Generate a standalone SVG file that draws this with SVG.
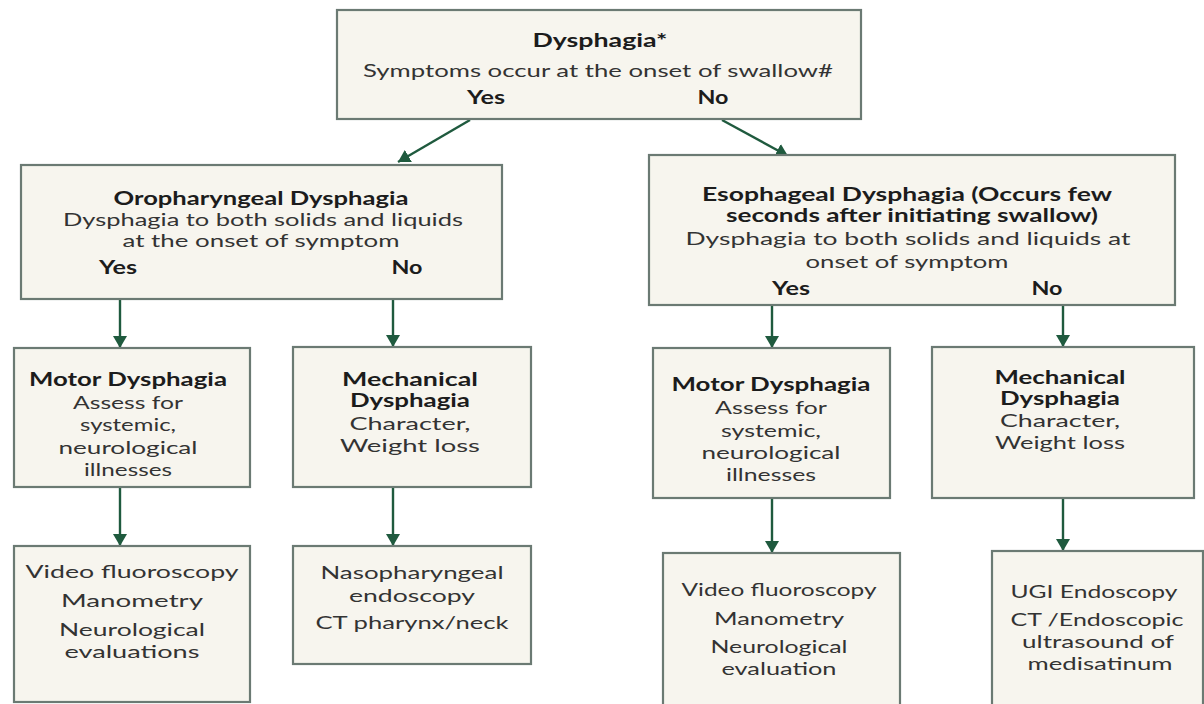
<svg xmlns="http://www.w3.org/2000/svg" width="1204" height="704" viewBox="0 0 1204 704">
<style>
.box{fill:#f7f5ee;stroke:#6b7a73;stroke-width:2.2}
.t{font-family:Lato,"Open Sans","Liberation Sans",sans-serif;font-size:18px;fill:#333333;text-anchor:middle}
.b{font-weight:bold;fill:#1c1c1c}
.c{stroke:#1f5a3e;stroke-width:2.4;fill:none;marker-end:url(#ah)}
</style>
<defs>
<marker id="ah" markerUnits="userSpaceOnUse" markerWidth="14" markerHeight="14" refX="12" refY="7" orient="auto">
<path d="M0,0 L12,7 L0,14 z" fill="#1f5a3e"/>
</marker>
</defs>
<rect width="1204" height="704" fill="#ffffff"/>
<g id="connectors">
<line class="c" x1="470" y1="120" x2="398" y2="162"/>
<line class="c" x1="722" y1="120" x2="788" y2="156"/>
<line class="c" x1="120" y1="300" x2="120" y2="348"/>
<line class="c" x1="393" y1="300" x2="393" y2="347"/>
<line class="c" x1="120" y1="488" x2="120" y2="546"/>
<line class="c" x1="393" y1="488" x2="393" y2="546"/>
<line class="c" x1="772" y1="306" x2="772" y2="348"/>
<line class="c" x1="1063" y1="306" x2="1063" y2="347"/>
<line class="c" x1="772" y1="499" x2="772" y2="553"/>
<line class="c" x1="1063" y1="499" x2="1063" y2="551"/>
</g>
<g id="n-dysphagia">
<rect class="box" x="337" y="10" width="524" height="109"/>
<text class="t b" x="600" y="47" textLength="135" lengthAdjust="spacingAndGlyphs">Dysphagia*</text>
<text class="t" x="598" y="77" textLength="470" lengthAdjust="spacingAndGlyphs">Symptoms occur at the onset of swallow#</text>
<text class="t b" x="486" y="104" textLength="38" lengthAdjust="spacingAndGlyphs">Yes</text>
<text class="t b" x="713" y="104" textLength="31" lengthAdjust="spacingAndGlyphs">No</text>
</g>
<g id="n-oropharyngeal">
<rect class="box" x="21" y="165" width="481" height="134"/>
<text class="t b" x="261" y="205" textLength="295" lengthAdjust="spacingAndGlyphs">Oropharyngeal Dysphagia</text>
<text class="t" x="263" y="226" textLength="400" lengthAdjust="spacingAndGlyphs">Dysphagia to both solids and liquids</text>
<text class="t" x="261" y="247" textLength="277" lengthAdjust="spacingAndGlyphs">at the onset of symptom</text>
<text class="t b" x="118" y="274" textLength="38" lengthAdjust="spacingAndGlyphs">Yes</text>
<text class="t b" x="407" y="274" textLength="31" lengthAdjust="spacingAndGlyphs">No</text>
</g>
<g id="n-esophageal">
<rect class="box" x="649" y="155" width="526" height="150"/>
<text class="t b" x="907" y="201" textLength="410" lengthAdjust="spacingAndGlyphs">Esophageal Dysphagia (Occurs few</text>
<text class="t b" x="912" y="222" textLength="372" lengthAdjust="spacingAndGlyphs">seconds after initiating swallow)</text>
<text class="t" x="908" y="245" textLength="445" lengthAdjust="spacingAndGlyphs">Dysphagia to both solids and liquids at</text>
<text class="t" x="907" y="268" textLength="203" lengthAdjust="spacingAndGlyphs">onset of symptom</text>
<text class="t b" x="791" y="295" textLength="38" lengthAdjust="spacingAndGlyphs">Yes</text>
<text class="t b" x="1047" y="295" textLength="31" lengthAdjust="spacingAndGlyphs">No</text>
</g>
<g id="n-motor-left">
<rect class="box" x="14" y="348" width="236" height="139"/>
<text class="t b" x="128" y="386" textLength="198" lengthAdjust="spacingAndGlyphs">Motor Dysphagia</text>
<text class="t" x="128" y="409" textLength="110" lengthAdjust="spacingAndGlyphs">Assess for</text>
<text class="t" x="128" y="431" textLength="96" lengthAdjust="spacingAndGlyphs">systemic,</text>
<text class="t" x="128" y="454" textLength="139" lengthAdjust="spacingAndGlyphs">neurological</text>
<text class="t" x="128" y="476" textLength="88" lengthAdjust="spacingAndGlyphs">illnesses</text>
</g>
<g id="n-mechanical-left">
<rect class="box" x="293" y="347" width="238" height="140"/>
<text class="t b" x="410" y="386" textLength="136" lengthAdjust="spacingAndGlyphs">Mechanical</text>
<text class="t b" x="410" y="407" textLength="120" lengthAdjust="spacingAndGlyphs">Dysphagia</text>
<text class="t" x="410" y="430" textLength="121" lengthAdjust="spacingAndGlyphs">Character,</text>
<text class="t" x="410" y="452" textLength="140" lengthAdjust="spacingAndGlyphs">Weight loss</text>
</g>
<g id="n-tests-motor-left">
<rect class="box" x="14" y="546" width="236" height="156"/>
<text class="t" x="132" y="578" textLength="213" lengthAdjust="spacingAndGlyphs">Video fluoroscopy</text>
<text class="t" x="132" y="607" textLength="142" lengthAdjust="spacingAndGlyphs">Manometry</text>
<text class="t" x="132" y="636" textLength="146" lengthAdjust="spacingAndGlyphs">Neurological</text>
<text class="t" x="132" y="658" textLength="135" lengthAdjust="spacingAndGlyphs">evaluations</text>
</g>
<g id="n-tests-mechanical-left">
<rect class="box" x="293" y="546" width="238" height="118"/>
<text class="t" x="412" y="579" textLength="183" lengthAdjust="spacingAndGlyphs">Nasopharyngeal</text>
<text class="t" x="412" y="602" textLength="126" lengthAdjust="spacingAndGlyphs">endoscopy</text>
<text class="t" x="412" y="629" textLength="193" lengthAdjust="spacingAndGlyphs">CT pharynx/neck</text>
</g>
<g id="n-motor-right">
<rect class="box" x="653" y="348" width="237" height="150"/>
<text class="t b" x="771" y="391" textLength="199" lengthAdjust="spacingAndGlyphs">Motor Dysphagia</text>
<text class="t" x="771" y="414" textLength="112" lengthAdjust="spacingAndGlyphs">Assess for</text>
<text class="t" x="771" y="437" textLength="100" lengthAdjust="spacingAndGlyphs">systemic,</text>
<text class="t" x="771" y="459" textLength="139" lengthAdjust="spacingAndGlyphs">neurological</text>
<text class="t" x="771" y="481" textLength="90" lengthAdjust="spacingAndGlyphs">illnesses</text>
</g>
<g id="n-mechanical-right">
<rect class="box" x="932" y="347" width="262" height="151"/>
<text class="t b" x="1060" y="384" textLength="131" lengthAdjust="spacingAndGlyphs">Mechanical</text>
<text class="t b" x="1060" y="405" textLength="120" lengthAdjust="spacingAndGlyphs">Dysphagia</text>
<text class="t" x="1060" y="427" textLength="120" lengthAdjust="spacingAndGlyphs">Character,</text>
<text class="t" x="1060" y="449" textLength="130" lengthAdjust="spacingAndGlyphs">Weight loss</text>
</g>
<g id="n-tests-motor-right">
<rect class="box" x="663" y="553" width="237" height="160"/>
<text class="t" x="779" y="596" textLength="195" lengthAdjust="spacingAndGlyphs">Video fluoroscopy</text>
<text class="t" x="779" y="625" textLength="130" lengthAdjust="spacingAndGlyphs">Manometry</text>
<text class="t" x="779" y="653" textLength="137" lengthAdjust="spacingAndGlyphs">Neurological</text>
<text class="t" x="779" y="675" textLength="115" lengthAdjust="spacingAndGlyphs">evaluation</text>
</g>
<g id="n-tests-mechanical-right">
<rect class="box" x="992" y="551" width="211" height="162"/>
<text class="t" x="1094" y="598" textLength="167" lengthAdjust="spacingAndGlyphs">UGI Endoscopy</text>
<text class="t" x="1097" y="626" textLength="173" lengthAdjust="spacingAndGlyphs">CT /Endoscopic</text>
<text class="t" x="1098" y="648" textLength="152" lengthAdjust="spacingAndGlyphs">ultrasound of</text>
<text class="t" x="1100" y="670" textLength="145" lengthAdjust="spacingAndGlyphs">medisatinum</text>
</g>
</svg>
